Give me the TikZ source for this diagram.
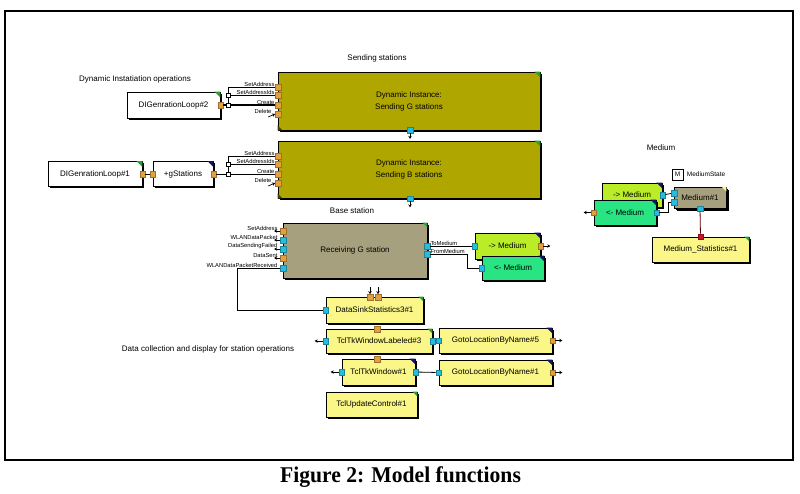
\documentclass[tikz,border=0pt]{standalone}
\usepackage{fontspec}
\setmainfont{Liberation Serif}
\setsansfont{Liberation Sans}
\usetikzlibrary{shadows,arrows.meta}
\definecolor{olivebox}{RGB}{176,166,0}
\definecolor{khakibox}{RGB}{166,160,126}
\definecolor{yellowbox}{RGB}{250,246,135}
\definecolor{limebox}{RGB}{186,236,40}
\definecolor{tealbox}{RGB}{40,228,130}
\definecolor{portorange}{RGB}{226,160,64}
\definecolor{portcyan}{RGB}{40,188,222}
\definecolor{portred}{RGB}{200,20,40}
\definecolor{cornergreen}{RGB}{40,160,50}
\definecolor{cornerdark}{RGB}{20,20,100}
\begin{document}
\begin{tikzpicture}[x=1pt,y=-1pt,
        blk/.style={draw=black, line width=0.9pt, inner sep=0pt, align=center, font=\sffamily\fontsize{8}{12}\selectfont, drop shadow={shadow xshift=1.8pt, shadow yshift=-1.8pt, opacity=1, fill=black}},
        oport/.style={fill=portorange, draw=portorange!70!black, line width=0.2pt, minimum size=5.5pt, inner sep=0pt},
        cport/.style={fill=portcyan, draw=portcyan!70!black, line width=0.2pt, minimum size=5.5pt, inner sep=0pt},
        rport/.style={fill=portred, draw=portred!70!black, line width=0.2pt, minimum size=5.5pt, inner sep=0pt},
        jct/.style={draw=black, fill=white, line width=0.6pt, minimum size=4pt, inner sep=0pt},
        plab/.style={font=\sffamily\fontsize{5.8}{6}\selectfont, inner sep=0.5pt},
        seclab/.style={font=\sffamily\fontsize{8}{9}\selectfont},
        wire/.style={line width=0.8pt},
        stub/.style={-{Stealth[length=3pt,width=3.5pt]}, line width=0.7pt}]
        \useasboundingbox (0,0) rectangle (800,493);
        \draw[line width=1.4pt] (5,11) rectangle (793,460);

        \node[seclab] (lsend) at (377,58) {Sending stations};
        \node[seclab] (ldyn) at (135,79) {Dynamic Instatiation operations};
        \node[seclab] (lbase) at (352,211) {Base station};
        \node[seclab] (lmed) at (661,148) {Medium};
        \node[seclab] (ldata) at (208,349) {Data collection and display for station operations};

        \node[blk, fill=olivebox, minimum width=262pt, minimum height=58pt] (sndG) at (409,101) {Dynamic Instance:\\Sending G stations};
        \node[blk, fill=olivebox, minimum width=262pt, minimum height=57pt] (sndB) at (409,169.5) {Dynamic Instance:\\Sending B stations};
        \node[blk, fill=white, minimum width=93pt, minimum height=26pt] (dig2) at (173.5,105) {DIGenrationLoop\#2};
        \node[blk, fill=white, minimum width=94pt, minimum height=25pt] (dig1) at (95,174) {DIGenrationLoop\#1};
        \node[blk, fill=white, minimum width=60pt, minimum height=25pt] (gsta) at (183,174) {+gStations};
        \node[blk, fill=khakibox, minimum width=144pt, minimum height=55pt] (recv) at (355,250.5) {Receiving G station};
        \node[blk, fill=limebox, minimum width=65pt, minimum height=26pt] (tomed) at (507.5,246) {-> Medium};
        \node[blk, fill=tealbox, minimum width=62pt, minimum height=24pt] (frommed) at (513,268) {<- Medium};
        \node[blk, fill=yellowbox, minimum width=97pt, minimum height=26pt] (sink) at (374.5,310) {DataSinkStatistics3\#1};
        \node[blk, fill=yellowbox, minimum width=106pt, minimum height=24pt] (tclab) at (379,341) {TclTkWindowLabeled\#3};
        \node[blk, fill=yellowbox, minimum width=113pt, minimum height=25pt] (goto5) at (495.5,340.5) {GotoLocationByName\#5};
        \node[blk, fill=yellowbox, minimum width=73pt, minimum height=26pt] (tcwin) at (378.5,372) {TclTkWindow\#1};
        \node[blk, fill=yellowbox, minimum width=113pt, minimum height=25pt] (goto1) at (495.5,372.5) {GotoLocationByName\#1};
        \node[blk, fill=yellowbox, minimum width=91pt, minimum height=25pt] (tcupd) at (371.5,404.5) {TclUpdateControl\#1};
        \node[blk, fill=limebox, minimum width=60pt, minimum height=24pt] (mtomed) at (632,195) {-> Medium};
        \node[blk, fill=tealbox, minimum width=62pt, minimum height=25pt] (mfrommed) at (625,212.5) {<- Medium};
        \node[blk, fill=khakibox, minimum width=52pt, minimum height=21pt, drop shadow={shadow xshift=2.5pt, shadow yshift=-2.5pt, opacity=1, fill=black}] (med1) at (700,197.5) {Medium\#1};
        \node[blk, fill=yellowbox, minimum width=97pt, minimum height=25pt] (mstat) at (700.5,249.5) {Medium\_Statistics\#1};
        \node[draw, line width=0.7pt, minimum size=11pt, inner sep=0pt, font=\sffamily\fontsize{6.5}{7}\selectfont] (mst) at (677.5,174.5) {M};
        \node[seclab, font=\sffamily\fontsize{6.5}{7}\selectfont, anchor=west] (lmst) at (mst.east) {MediumState};

        \fill[cornergreen] (sndG.north east) -- ++(-6,0) -- ++(6,6) -- cycle;
        \fill[cornergreen] (sndB.north east) -- ++(-6,0) -- ++(6,6) -- cycle;
        \fill[cornergreen] (dig2.north east) -- ++(-6,0) -- ++(6,6) -- cycle;
        \fill[cornergreen] (dig1.north east) -- ++(-6,0) -- ++(6,6) -- cycle;
        \fill[cornergreen] (recv.north east) -- ++(-5,0) -- ++(5,5) -- cycle;
        \fill[cornergreen] (sink.north east) -- ++(-5,0) -- ++(5,5) -- cycle;
        \fill[cornergreen] (tclab.north east) -- ++(-5,0) -- ++(5,5) -- cycle;
        \fill[cornergreen] (tcupd.north east) -- ++(-5,0) -- ++(5,5) -- cycle;
        \fill[cornergreen] (mstat.north east) -- ++(-5,0) -- ++(5,5) -- cycle;
        \fill[yellowbox] (med1.north east) -- ++(-5,0) -- ++(5,5) -- cycle;
        \fill[cornerdark] (gsta.north east) -- ++(-6,0) -- ++(6,6) -- cycle;
        \fill[cornerdark] (tomed.north east) -- ++(-6,0) -- ++(6,6) -- cycle;
        \fill[cornerdark] (frommed.north east) -- ++(-6,0) -- ++(6,6) -- cycle;
        \fill[cornerdark] (goto5.north east) -- ++(-6,0) -- ++(6,6) -- cycle;
        \fill[cornerdark] (goto1.north east) -- ++(-6,0) -- ++(6,6) -- cycle;
        \fill[cornerdark] (tcwin.north east) -- ++(-6,0) -- ++(6,6) -- cycle;
        \fill[cornerdark] (mtomed.north east) -- ++(-6,0) -- ++(6,6) -- cycle;
        \fill[cornerdark] (mfrommed.north east) -- ++(-6,0) -- ++(6,6) -- cycle;
        \fill[olivebox!40!black] (sndG.south west) -- ++(5,0) -- ++(-5,-5) -- cycle;
        \fill[olivebox!40!black] (sndB.south west) -- ++(5,0) -- ++(-5,-5) -- cycle;

        \node[oport] (sa1) at (278,87) {};
        \node[oport] (si1) at (278,95) {};
        \node[oport] (cr1) at (278,105) {};
        \node[oport] (dl1) at (278,114) {};
        \node[cport] (bt1) at (410,130) {};
        \node[oport] (sa2) at (278,156) {};
        \node[oport] (si2) at (278,164) {};
        \node[oport] (cr2) at (278,174) {};
        \node[oport] (dl2) at (278,183) {};
        \node[cport] (bt2) at (410,198.5) {};
        \node[oport] (d2o) at (dig2.east) {};
        \node[oport] (d1o) at (dig1.east) {};
        \node[oport] (gi) at (gsta.west) {};
        \node[oport] (go) at (gsta.east) {};
        \node[jct] (ja1) at (228,105) {};
        \node[jct] (jb1) at (228,95) {};
        \node[jct] (ja2) at (228,174) {};
        \node[jct] (jb2) at (228,164) {};

        \node[plab, anchor=south east] at (sa1.west) {SetAddress};
        \node[plab, anchor=south east] at (si1.west) {SetAddressIds};
        \node[plab, anchor=south east] at (cr1.west) {Create};
        \node[plab, anchor=south east] at ([xshift=-3pt]dl1.west) {Delete};
        \node[plab, anchor=south east] at (sa2.west) {SetAddress};
        \node[plab, anchor=south east] at (si2.west) {SetAddressIds};
        \node[plab, anchor=south east] at (cr2.west) {Create};
        \node[plab, anchor=south east] at ([xshift=-3pt]dl2.west) {Delete};

        \draw[wire, line width=1.3pt] (d2o) -- (ja1) -- (cr1);
        \draw[wire] (ja1) -- (jb1) -- (si1);
        \draw[wire] (jb1) |- (sa1);
        \draw[wire] (d1o) -- (gi);
        \draw[wire] (go) -- (ja2) -- (cr2);
        \draw[wire] (ja2) -- (jb2) -- (si2);
        \draw[wire] (jb2) |- (sa2);
        \draw[stub] ([xshift=-7pt,yshift=-3pt]dl1.west) -- (dl1.west);
        \draw[stub] ([xshift=-7pt,yshift=-3pt]dl2.west) -- (dl2.west);
        \draw[stub, line width=0.5pt] (bt1.south) -- ++(0,6);
        \draw[stub, line width=0.5pt] (bt2.south) -- ++(0,6);

        \node[oport] (rsa) at (283,231) {};
        \node[cport] (rwp) at (283,240) {};
        \node[cport] (rdf) at (283,249) {};
        \node[oport] (rds) at (283,258) {};
        \node[cport] (rwr) at (283,268) {};
        \node[cport] (rtm) at (427,246) {};
        \node[cport] (rfm) at (427,254) {};
        \node[cport] (tmi) at (tomed.west) {};
        \node[oport] (tmo) at (tomed.east) {};
        \node[cport] (fmi) at (frommed.west) {};

        \node[plab, anchor=south east] at ([xshift=-2pt]rsa.west) {SetAddress};
        \node[plab, anchor=south east] at ([xshift=-2pt]rwp.west) {WLANDataPacket};
        \node[plab, anchor=south east] at ([xshift=-2pt]rdf.west) {DataSendingFailed};
        \node[plab, anchor=south east] at ([xshift=-2pt]rds.west) {DataSent};
        \node[plab, anchor=south east] at ([xshift=-2pt]rwr.west) {WLANDataPacketReceived};
        \node[plab, anchor=south west] at (rtm.east) {ToMedium};
        \node[plab, anchor=south west] at (rfm.east) {FromMedium};

        \draw[stub] (rsa.west) -- ++(-6,0);
        \draw[stub] (rwp.west) -- ++(-6,0);
        \draw[stub] (rdf.west) -- ++(-6,0);
        \draw[stub] (rds.west) -- ++(-6,0);
        \draw[stub] (tmo.east) -- ++(7,0);

        \coordinate (fmbend) at (467,254);
        \coordinate (wrbend) at (237,268);
        \draw[wire] (rtm) -- (tmi);
        \draw[wire] (rfm) -- (fmbend) |- (fmi);

        \node[cport] (snki) at (sink.west) {};
        \node[oport] (sp1) at (370,297) {};
        \node[oport] (sp2) at (378,297) {};
        \node[oport] (tlt) at (377,329) {};
        \node[cport] (tli) at (tclab.west) {};
        \node[cport] (tlo) at (tclab.east) {};
        \node[cport] (g5i) at (goto5.west) {};
        \node[oport] (g5o) at (goto5.east) {};
        \node[oport] (twt) at (377,359) {};
        \node[cport] (twi) at (tcwin.west) {};
        \node[cport] (two) at (tcwin.east) {};
        \node[cport] (g1i) at (goto1.west) {};
        \node[oport] (g1o) at (goto1.east) {};

        \draw[wire] (rwr) -- (wrbend) |- (snki);
        \draw[wire] (tlo) -- (g5i);
        \draw[wire] (two) -- (g1i);
        \draw[stub, line width=0.5pt] ([yshift=7pt]sp1.north) -- (sp1.north);
        \draw[stub, line width=0.5pt] ([yshift=7pt]sp2.north) -- (sp2.north);
        \draw[stub] (tli.west) -- ++(-8,0);
        \draw[stub] (twi.west) -- ++(-8,0);
        \draw[stub] (g5o.east) -- ++(7,0);
        \draw[stub] (g1o.east) -- ++(7,0);

        \node[cport] (mto) at (mtomed.east) {};
        \node[cport] (mfr) at (mfrommed.east) {};
        \node[oport] (mfl) at (mfrommed.west) {};
        \node[cport] (m1a) at (674,193) {};
        \node[cport] (m1b) at (674,202) {};
        \node[cport] (m1c) at (med1.south) {};
        \node[rport] (mstin) at (mstat.north) {};
        \coordinate (mbend) at (668,212.5);

        \draw[wire] (mto) -- (m1a);
        \draw[wire] (mfr) -- (mbend) |- (m1b);
        \draw[wire, color=red!35!black] (m1c) -- (mstin);
        \draw[stub] (mfl.west) -- ++(-7,0);

        \node[font=\rmfamily\bfseries\fontsize{22.5}{24}\selectfont, anchor=base, xscale=0.96] (cap) at (400.5,482) {Figure 2: Model functions};
    \end{tikzpicture}
\end{document}
